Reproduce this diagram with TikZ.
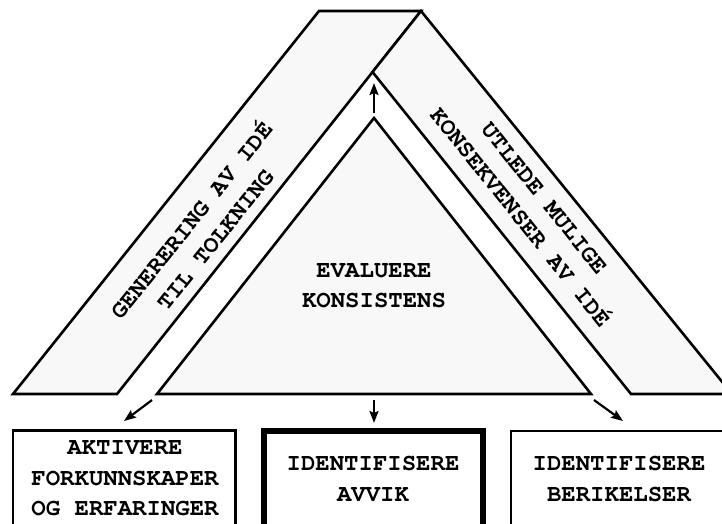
\documentclass[tikz,border=0pt]{standalone}
\usepackage[T1]{fontenc}
\usepackage{courier}
\usetikzlibrary{arrows.meta}
\definecolor{panel}{RGB}{248,248,248}
\begin{document}
\begin{tikzpicture}[x=1pt,y=-1pt,
  lbl/.style={font=\fontsize{24}{30.5}\selectfont\ttfamily\bfseries, align=center, inner sep=0pt},
  panelfill/.style={draw=black, fill=panel, line width=2.6pt, line join=miter},
  conn/.style={line width=2.2pt, -{Stealth[length=12pt,width=9pt,inset=2pt]}},
  boxframe/.style={draw=black, line width=2.6pt, fill=white}]
\useasboundingbox (0,0) rectangle (722,524);
\clip (0,0) rectangle (722,524);

% chevron: left band, right band, centre triangle
\draw[panelfill] (13,394) -- (319,11) -- (421,11) -- (117,394) -- cycle;
\draw[panelfill] (372.5,72) -- (421,11) -- (732,394) -- (631,394) -- cycle;
\draw[panelfill] (374,118) -- (591,394) -- (157,394) -- cycle;

\node[lbl, rotate=51.3] (gen) at (202,229) {GENERERING AV ID\'E\\TIL TOLKNING};
\node[lbl, rotate=-51.3] (utl) at (532,208) {UTLEDE MULIGE\\KONSEKVENSER AV ID\'E};
\node[lbl] (eval) at (374,286) {EVALUERE\\KONSISTENS};

% boxes along the bottom
\draw[boxframe] (13,430.5) rectangle (235.5,560);
\draw[boxframe, line width=6pt] (263.5,431) rectangle (483,560);
\draw[boxframe] (511,431) rectangle (728,560);

\node[lbl] (akt) at (125,479) {AKTIVERE\\FORKUNNSKAPER\\OG ERFARINGER};
\node[lbl] (avv) at (373,479) {IDENTIFISERE\\AVVIK};
\node[lbl] (ber) at (619,479) {IDENTIFISERE\\BERIKELSER};

% connectors
\coordinate (upA) at (374,113);
\coordinate (upB) at (374,83);
\coordinate (dnA) at (374,400);
\coordinate (dnB) at (374,423);
\coordinate (lfA) at (152,400);
\coordinate (lfB) at (124,421);
\coordinate (rtA) at (594,400);
\coordinate (rtB) at (623,421);
\draw[conn] (upA) -- (upB);
\draw[conn] (dnA) -- (dnB);
\draw[conn] (lfA) -- (lfB);
\draw[conn] (rtA) -- (rtB);
\end{tikzpicture}
\end{document}
